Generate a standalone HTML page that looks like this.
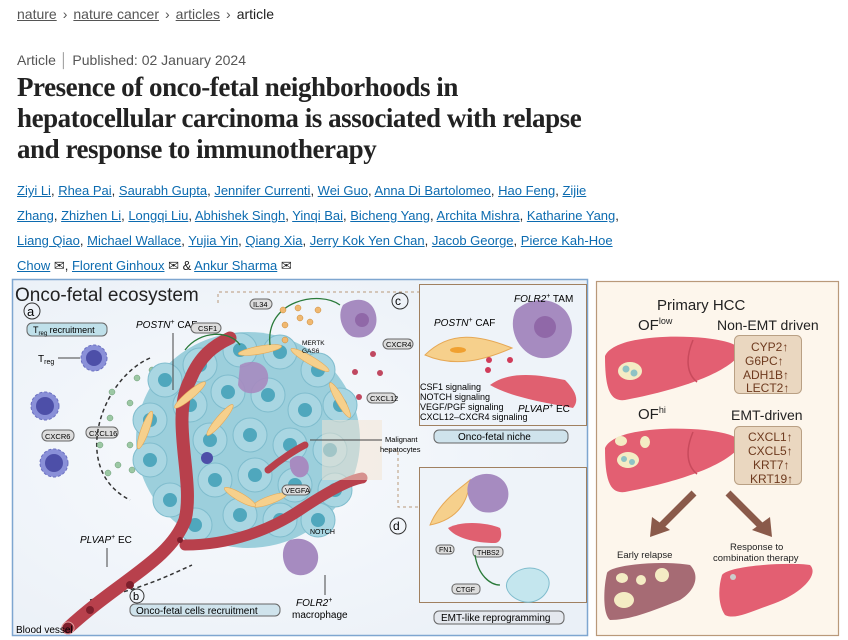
<!DOCTYPE html>
<html><head><meta charset="utf-8">
<style>
body{margin:0;width:848px;height:640px;overflow:hidden;background:#fff;font-family:"Liberation Sans",sans-serif;}
.bc{position:absolute;left:17px;top:6px;font-size:14px;color:#222}
.bc a{color:#555;text-decoration:underline}
.bc span{margin:0 6px;color:#555}
.meta{position:absolute;left:17px;top:52px;font-size:14px;color:#555}
h1{position:absolute;left:17px;top:72px;margin:0;font-family:"Liberation Serif",serif;font-weight:bold;font-size:27px;line-height:31px;letter-spacing:-0.45px;color:#222;width:700px;white-space:nowrap}
.au{position:absolute;left:17px;top:178px;width:640px;font-size:13px;line-height:25px;color:#222;white-space:nowrap}
.au a{color:#0c6bb0;text-decoration:underline}
</style></head><body>
<div class="bc"><a>nature</a><span>›</span><a>nature cancer</a><span>›</span><a>articles</a><span>›</span>article</div>
<div class="meta">Article <span style="color:#999">│</span> Published: 02 January 2024</div>
<h1>Presence of onco-fetal neighborhoods in<br>hepatocellular carcinoma is associated with relapse<br>and response to immunotherapy</h1>
<div class="au"><a>Ziyi Li</a>, <a>Rhea Pai</a>, <a>Saurabh Gupta</a>, <a>Jennifer Currenti</a>, <a>Wei Guo</a>, <a>Anna Di Bartolomeo</a>, <a>Hao Feng</a>, <a>Zijie</a><br><a>Zhang</a>, <a>Zhizhen Li</a>, <a>Longqi Liu</a>, <a>Abhishek Singh</a>, <a>Yinqi Bai</a>, <a>Bicheng Yang</a>, <a>Archita Mishra</a>, <a>Katharine Yang</a>,<br><a>Liang Qiao</a>, <a>Michael Wallace</a>, <a>Yujia Yin</a>, <a>Qiang Xia</a>, <a>Jerry Kok Yen Chan</a>, <a>Jacob George</a>, <a>Pierce Kah-Hoe</a><br><a>Chow</a> ✉, <a>Florent Ginhoux</a> ✉ &amp; <a>Ankur Sharma</a> ✉</div>

<svg style="position:absolute;left:0;top:0" width="848" height="640" font-family="Liberation Sans, sans-serif">
<defs>
<radialGradient id="bg" cx="0.4" cy="0.5" r="0.7"><stop offset="0" stop-color="#f8fafd"/><stop offset="1" stop-color="#eaf0f7"/></radialGradient>
<g id="cell"><circle r="17" fill="#a9d6e2" stroke="#7fbccd" stroke-width="1"/><circle r="7" fill="#4fa7bd"/></g>
<g id="liver"><path d="M0,22 C8,4 60,0 100,4 C125,7 142,12 132,24 C112,44 62,58 20,66 C5,68 0,55 0,22Z" fill="#e35f72"/><path d="M88,6 C80,25 82,40 92,48" stroke="#c84a5c" fill="none" stroke-width="1.5"/></g>
</defs>
<!-- left panel -->
<rect x="12.5" y="279.5" width="575" height="356" fill="url(#bg)" stroke="#7ea6d0" stroke-width="1.5"/>
<text x="15" y="301" font-size="19" fill="#222">Onco-fetal ecosystem</text>
<circle cx="32" cy="311" r="8" fill="none" stroke="#333"/><text x="27" y="316" font-size="13">a</text>
<rect x="27" y="323" width="80" height="13" rx="5" fill="#bfe0ea" stroke="#666"/><text x="33" y="333" font-size="9">T<tspan font-size="6" dy="2">reg</tspan><tspan dy="-2"> recruitment</tspan></text>
<text x="38" y="362" font-size="10">T<tspan font-size="7" dy="2">reg</tspan></text>
<line x1="58" y1="358" x2="80" y2="358" stroke="#444"/>
<g fill="#8a90d8" stroke="#6a6fc0" stroke-dasharray="3 2"><circle cx="94" cy="358" r="13"/><circle cx="45" cy="406" r="14"/><circle cx="54" cy="463" r="14"/></g>
<g fill="#4d4fa8"><circle cx="94" cy="358" r="8"/><circle cx="45" cy="406" r="9"/><circle cx="54" cy="463" r="9"/></g>
<rect x="42" y="430" width="32" height="11" rx="5" fill="#ddd" stroke="#666"/><text x="45" y="439" font-size="7.5">CXCR6</text>
<rect x="86" y="427" width="32" height="11" rx="5" fill="#ddd" stroke="#666"/><text x="89" y="436" font-size="7.5">CXCL16</text>
<path d="M150,358 C100,380 70,470 130,500" stroke="#333" stroke-width="1.5" fill="none" stroke-dasharray="4 3"/>
<path d="M90,600 C140,590 170,575 192,565" stroke="#333" stroke-width="1.5" fill="none" stroke-dasharray="4 3"/>
<g fill="#9cc8a4" stroke="#6a9a74" stroke-width=".5"><circle cx="152" cy="370" r="3"/><circle cx="137" cy="378" r="3"/><circle cx="112" cy="392" r="3"/><circle cx="130" cy="403" r="3"/><circle cx="110" cy="418" r="3"/><circle cx="130" cy="445" r="3"/><circle cx="100" cy="445" r="3"/><circle cx="118" cy="465" r="3"/><circle cx="108" cy="473" r="3"/><circle cx="132" cy="470" r="3"/></g>
<path d="M218,303 V292 H420" stroke="#b9997a" fill="none" stroke-dasharray="3 3"/>
<path d="M388,450 H398 V507 H420" stroke="#b9997a" fill="none" stroke-dasharray="3 3"/>
<!-- tumor -->
<ellipse cx="248" cy="440" rx="112" ry="108" fill="#9ccfdc"/>
<g>
<use href="#cell" x="165" y="380"/><use href="#cell" x="200" y="365"/><use href="#cell" x="240" y="350"/><use href="#cell" x="280" y="352"/><use href="#cell" x="318" y="370"/><use href="#cell" x="340" y="405"/>
<use href="#cell" x="150" y="420"/><use href="#cell" x="190" y="405"/><use href="#cell" x="228" y="392"/><use href="#cell" x="268" y="395"/><use href="#cell" x="305" y="410"/>
<use href="#cell" x="150" y="460"/><use href="#cell" x="210" y="440"/><use href="#cell" x="250" y="435"/><use href="#cell" x="290" y="445"/><use href="#cell" x="330" y="450"/>
<use href="#cell" x="170" y="500"/><use href="#cell" x="215" y="480"/><use href="#cell" x="255" y="475"/><use href="#cell" x="295" y="485"/><use href="#cell" x="335" y="490"/>
<use href="#cell" x="195" y="525"/><use href="#cell" x="240" y="515"/><use href="#cell" x="280" y="520"/><use href="#cell" x="318" y="520"/>
</g>
<g fill="none" stroke="#b8404c" stroke-linecap="round">
<path d="M68,628 C120,580 170,560 185,520 C195,480 170,420 190,380 C200,355 215,345 230,338" stroke-width="13"/>
<path d="M185,545 C230,545 270,530 300,510 C330,490 350,480 362,478" stroke-width="11"/>
<path d="M268,470 C280,460 295,450 305,445" stroke-width="7"/>
</g>
<g fill="#7d1f2c"><circle cx="90" cy="610" r="4"/><circle cx="130" cy="585" r="4"/><circle cx="180" cy="540" r="3"/></g>
<circle cx="68" cy="628" r="6" fill="#7d1f2c" stroke="#e8a0a0"/>
<g fill="#f6d08c" stroke="#e6a855" stroke-width=".6">
<ellipse cx="190" cy="395" rx="20" ry="4" transform="rotate(-40 190 395)"/><ellipse cx="260" cy="350" rx="22" ry="4" transform="rotate(-10 260 350)"/><ellipse cx="310" cy="360" rx="22" ry="4" transform="rotate(30 310 360)"/><ellipse cx="340" cy="400" rx="20" ry="4" transform="rotate(60 340 400)"/><ellipse cx="145" cy="430" rx="20" ry="4" transform="rotate(-70 145 430)"/><ellipse cx="220" cy="420" rx="20" ry="4" transform="rotate(-50 220 420)"/><ellipse cx="270" cy="500" rx="18" ry="4" transform="rotate(-20 270 500)"/><ellipse cx="240" cy="497" rx="18" ry="4" transform="rotate(30 240 497)"/>
</g>
<path d="M240,365 c15,-8 30,0 28,15 c-2,15 -25,18 -30,5 z" fill="#a68bc0" opacity=".9"/>
<path d="M290,460 c10,-10 22,0 18,12 c-5,10 -20,6 -18,-12z" fill="#a78bc0"/>
<circle cx="207" cy="458" r="6" fill="#4d4fa8"/>
<rect x="322" y="420" width="60" height="60" fill="#f3e3d2" opacity=".5"/>
<text x="136" y="328" font-size="10" font-style="italic">POSTN<tspan font-style="normal" font-size="7" dy="-4">+</tspan><tspan dy="4" font-style="normal"> CAF</tspan></text>
<line x1="173" y1="333" x2="173" y2="390" stroke="#444"/>
<rect x="191" y="323" width="30" height="10" rx="5" fill="#ddd" stroke="#666"/><text x="198" y="331" font-size="7.5">CSF1</text>
<rect x="250" y="299" width="22" height="10" rx="5" fill="#ddd" stroke="#666"/><text x="253" y="307" font-size="7.5">IL34</text>
<path d="M270,345 C265,300 320,290 340,305" stroke="#2a7a3a" fill="none" stroke-width="1.3"/>
<path d="M185,350 C200,330 230,330 240,345" stroke="#2a7a3a" fill="none" stroke-width="1.3"/>
<g fill="#f0b870" stroke="#c98a3a" stroke-width=".5"><circle cx="285" cy="325" r="3"/><circle cx="300" cy="318" r="3"/><circle cx="283" cy="310" r="3"/><circle cx="298" cy="308" r="3"/><circle cx="310" cy="322" r="3"/><circle cx="318" cy="310" r="3"/><circle cx="285" cy="340" r="3"/></g>
<text x="302" y="345" font-size="6.5">MERTK</text><text x="302" y="353" font-size="6.5">GAS6</text>
<path d="M343,305 c15,-10 30,-5 33,10 c3,15 -8,25 -22,22 c-10,-2 -18,-20 -11,-32z" fill="#a68bc0"/>
<circle cx="362" cy="320" r="7" fill="#9068a8"/>
<rect x="383" y="339" width="30" height="10" rx="5" fill="#ddd" stroke="#666"/><text x="386" y="347" font-size="7.5">CXCR4</text>
<g fill="#c04860"><circle cx="373" cy="354" r="3"/><circle cx="355" cy="372" r="3"/><circle cx="380" cy="373" r="3"/><circle cx="359" cy="397" r="3"/></g>
<rect x="367" y="393" width="29" height="10" rx="5" fill="#ddd" stroke="#666"/><text x="370" y="401" font-size="7.5">CXCL12</text>
<line x1="310" y1="440" x2="382" y2="440" stroke="#444"/>
<text x="385" y="442" font-size="7.5">Malignant</text><text x="380" y="452" font-size="7.5">hepatocytes</text>
<rect x="282" y="485" width="28" height="10" rx="5" fill="#ddd" stroke="#666"/><text x="285" y="493" font-size="7.5">VEGFA</text>
<text x="310" y="534" font-size="7">NOTCH</text>
<path d="M290,540 c15,-5 30,5 28,20 c-2,15 -20,20 -30,10 c-8,-10 -6,-26 2,-30z" fill="#a68bc0"/>
<line x1="325" y1="575" x2="325" y2="595" stroke="#444"/>
<text x="296" y="606" font-size="10" font-style="italic">FOLR2<tspan font-style="normal" font-size="7" dy="-4">+</tspan></text>
<text x="292" y="618" font-size="10">macrophage</text>
<text x="80" y="543" font-size="10" font-style="italic">PLVAP<tspan font-style="normal" font-size="7" dy="-4">+</tspan><tspan dy="4" font-style="normal"> EC</tspan></text>
<line x1="107" y1="548" x2="107" y2="567" stroke="#444"/>
<circle cx="137" cy="596" r="7" fill="none" stroke="#333"/><text x="133" y="600" font-size="11">b</text>
<rect x="130" y="604" width="150" height="12" rx="5" fill="#cfe3ec" stroke="#666"/><text x="136" y="614" font-size="10">Onco-fetal cells recruitment</text>
<text x="16" y="633" font-size="10">Blood vessel</text>
<circle cx="400" cy="301" r="8" fill="none" stroke="#333"/><text x="395" y="305" font-size="12">c</text>
<rect x="419.5" y="284.5" width="167" height="141" fill="#eef3f9" stroke="#a08060"/>
<path d="M425,355 C450,330 480,335 512,348 C485,360 455,368 425,355z" fill="#f6d08c" stroke="#e6a855"/>
<ellipse cx="458" cy="350" rx="8" ry="3" fill="#f0a030"/>
<path d="M516,310 c20,-18 50,-10 55,12 c5,20 -10,38 -30,36 c-20,-2 -35,-28 -25,-48z" fill="#a68bc0"/>
<circle cx="545" cy="327" r="11" fill="#9068a8"/>
<path d="M490,385 c20,-15 50,-10 75,-5 c10,10 15,20 8,28 c-25,-5 -60,-10 -83,-23z" fill="#e06070"/>
<g fill="#d03c5a"><circle cx="489" cy="360" r="3"/><circle cx="488" cy="370" r="3"/><circle cx="510" cy="360" r="3"/></g>
<text x="514" y="302" font-size="10" font-style="italic">FOLR2<tspan font-style="normal" font-size="7" dy="-4">+</tspan><tspan dy="4" font-style="normal"> TAM</tspan></text>
<text x="434" y="326" font-size="10" font-style="italic">POSTN<tspan font-style="normal" font-size="7" dy="-4">+</tspan><tspan dy="4" font-style="normal"> CAF</tspan></text>
<text x="420" y="390" font-size="9">CSF1 signaling</text>
<text x="420" y="400" font-size="9">NOTCH signaling</text>
<text x="420" y="410" font-size="9">VEGF/PGF signaling</text>
<text x="420" y="420" font-size="9">CXCL12–CXCR4 signaling</text>
<text x="518" y="412" font-size="10" font-style="italic">PLVAP<tspan font-style="normal" font-size="7" dy="-4">+</tspan><tspan dy="4" font-style="normal"> EC</tspan></text>
<rect x="434" y="430" width="134" height="13" rx="5" fill="#cfe3ec" stroke="#666"/><text x="458" y="440" font-size="10">Onco-fetal niche</text>
<circle cx="398" cy="526" r="8" fill="none" stroke="#333"/><text x="393" y="530" font-size="12">d</text>
<rect x="419.5" y="467.5" width="167" height="135" fill="#eef3f9" stroke="#a08060"/>
<path d="M430,525 C440,500 465,485 470,480 C468,505 455,520 430,525z" fill="#f6d08c" stroke="#e6a855"/>
<path d="M470,480 c15,-12 35,-5 38,10 c3,15 -10,25 -25,22 c-12,-3 -20,-20 -13,-32z" fill="#a68bc0"/>
<path d="M448,528 c15,-8 40,-5 52,0 c3,8 0,15 -5,15 c-20,0 -40,-5 -47,-15z" fill="#e06070"/>
<rect x="436" y="545" width="18" height="9" rx="4" fill="#ddd" stroke="#666"/><text x="439" y="552" font-size="7">FN1</text>
<rect x="473" y="547" width="30" height="10" rx="4" fill="#ddd" stroke="#666"/><text x="477" y="555" font-size="7">THBS2</text>
<rect x="452" y="584" width="28" height="10" rx="4" fill="#ddd" stroke="#666"/><text x="456" y="592" font-size="7">CTGF</text>
<path d="M508,580 c10,-15 30,-15 38,-5 c8,8 0,25 -15,27 c-12,2 -30,-10 -23,-22z" fill="#c4e6ee" stroke="#7fbccd"/>
<path d="M475,555 C478,575 490,585 500,585" stroke="#2a7a3a" fill="none" stroke-width="1.3"/>
<rect x="434" y="611" width="130" height="13" rx="5" fill="#e4e8ee" stroke="#666"/><text x="441" y="621" font-size="10">EMT-like reprogramming</text>

<!-- right panel -->
<rect x="596.5" y="281.5" width="242" height="354" fill="#fdf6ec" stroke="#b9997a" stroke-width="1.2"/>
<text x="657" y="310" font-size="15" fill="#222">Primary HCC</text>
<text x="638" y="330" font-size="15" fill="#222">OF<tspan font-size="9" dy="-6">low</tspan></text>
<text x="717" y="330" font-size="14" fill="#222">Non-EMT driven</text>
<use href="#liver" x="605" y="334"/>
<ellipse cx="630" cy="371" rx="12" ry="9" fill="#f4ecc4"/><circle cx="626" cy="369" r="3.5" fill="#8fc3c5"/><circle cx="634" cy="373" r="3.5" fill="#8fc3c5"/>
<rect x="734.5" y="335.5" width="67" height="58" rx="5" fill="#ead7c0" stroke="#b9a084"/>
<g font-size="12" fill="#6e3a1e"><text x="751" y="351">CYP2↑</text><text x="745" y="365">G6PC↑</text><text x="743" y="379">ADH1B↑</text><text x="746" y="392">LECT2↑</text></g>
<text x="638" y="419" font-size="15" fill="#222">OF<tspan font-size="9" dy="-6">hi</tspan></text>
<text x="731" y="420" font-size="14" fill="#222">EMT-driven</text>
<use href="#liver" x="605" y="426"/>
<g fill="#f4ecc4"><ellipse cx="621" cy="441" rx="6" ry="5"/><ellipse cx="645" cy="442" rx="5" ry="6"/><ellipse cx="628" cy="460" rx="11" ry="8"/></g>
<g fill="#8fc3c5"><circle cx="624" cy="459" r="3"/><circle cx="632" cy="462" r="3"/></g>
<rect x="734.5" y="426.5" width="67" height="58" rx="5" fill="#ead7c0" stroke="#b9a084"/>
<g font-size="12" fill="#6e3a1e"><text x="748" y="441">CXCL1↑</text><text x="748" y="455">CXCL5↑</text><text x="753" y="469">KRT7↑</text><text x="750" y="483">KRT19↑</text></g>
<path d="M694,493 L660,527" stroke="#8a5a4a" stroke-width="7"/><polygon points="650,537 652,517 670,530" fill="#8a5a4a"/>
<path d="M728,493 L762,527" stroke="#8a5a4a" stroke-width="7"/><polygon points="772,537 752,530 770,517" fill="#8a5a4a"/>
<text x="617" y="558" font-size="9.5" fill="#222">Early relapse</text>
<text x="730" y="550" font-size="9.5" fill="#222">Response to</text>
<text x="713" y="561" font-size="9.5" fill="#222">combination therapy</text>
<path d="M607,573 C610,565 660,560 690,565 C700,575 696,590 680,600 C650,612 630,620 610,620 C603,615 603,590 607,573Z" fill="#a66b74"/>
<g fill="#f4ecc4"><ellipse cx="622" cy="578" rx="6" ry="5"/><ellipse cx="641" cy="580" rx="5" ry="5"/><ellipse cx="662" cy="575" rx="7" ry="7"/><ellipse cx="624" cy="600" rx="10" ry="8"/></g>
<path d="M722,575 C730,565 790,562 810,565 C820,575 800,595 770,605 C750,612 735,620 725,615 C718,605 718,588 722,575Z" fill="#e35f72"/>
<circle cx="733" cy="577" r="3" fill="#ccc"/>
</svg>
</body></html>
